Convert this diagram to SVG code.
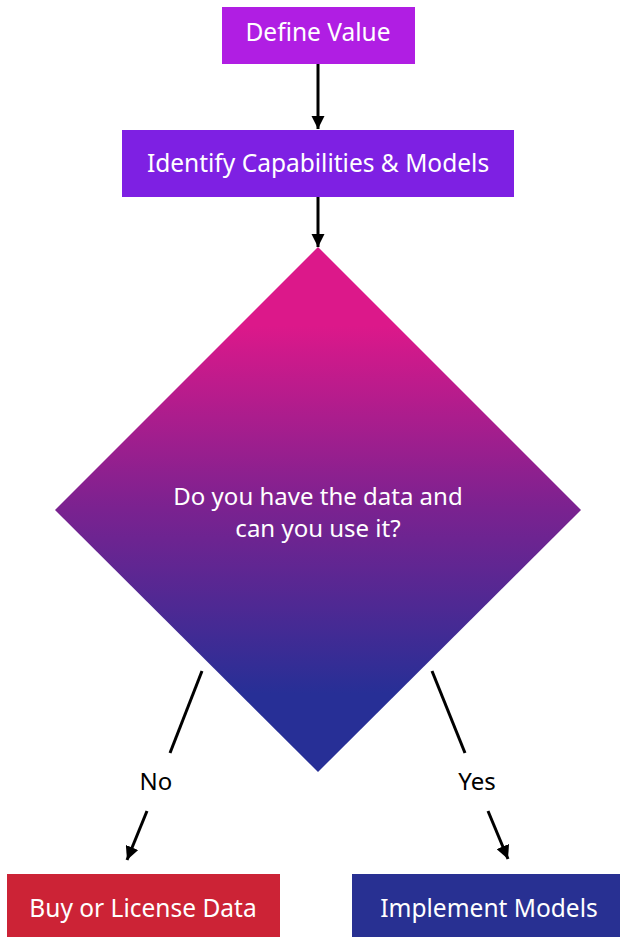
<svg xmlns="http://www.w3.org/2000/svg" width="620" height="937" viewBox="0 0 620 937">
<style>
.lbl{font-family:"Noto Sans","Open Sans","DejaVu Sans",sans-serif;font-size:24.5px;fill:#ffffff;text-anchor:middle}
.dlbl{font-family:"Noto Sans","Open Sans","DejaVu Sans",sans-serif;font-size:24px;fill:#ffffff;text-anchor:middle}
.edge{font-family:"Noto Sans","Open Sans","DejaVu Sans",sans-serif;font-size:24px;fill:#000000;text-anchor:middle}
.conn{stroke:#000;stroke-width:3;fill:none}
</style>
<defs>
<marker id="arr" viewBox="0 0 10 10" refX="10" refY="5" markerWidth="4.5" markerHeight="4.5" orient="auto" markerUnits="strokeWidth">
<path d="M0,0 L10,5 L0,10 Z" fill="#000"/>
</marker>
<linearGradient id="dg" gradientUnits="userSpaceOnUse" x1="0" y1="247" x2="0" y2="772">
<stop offset="0.15" stop-color="#DC188A"/>
<stop offset="0.5" stop-color="#7A2290"/>
<stop offset="0.85" stop-color="#272F96"/>
</linearGradient>
</defs>
<rect width="620" height="937" fill="#fff"/>
<g id="connectors">
<line class="conn" x1="318" y1="64" x2="318" y2="129" marker-end="url(#arr)"/>
<line class="conn" x1="318" y1="197" x2="318" y2="247" marker-end="url(#arr)"/>
<line class="conn" x1="202" y1="671" x2="170" y2="753"/>
<line class="conn" x1="147" y1="811" x2="127" y2="860" marker-end="url(#arr)"/>
<text class="edge" x="156" y="790">No</text>
<line class="conn" x1="432" y1="671" x2="465" y2="753"/>
<line class="conn" x1="488" y1="811" x2="508" y2="859" marker-end="url(#arr)"/>
<text class="edge" x="477" y="790">Yes</text>
</g>
<g id="define-value">
<rect x="222" y="7" width="193" height="57" fill="#B01EE3"/>
<text class="lbl" x="318" y="41">Define Value</text>
</g>
<g id="identify">
<rect x="122" y="130" width="392" height="67" fill="#7E20E3"/>
<text class="lbl" x="318" y="172">Identify Capabilities &amp; Models</text>
</g>
<g id="decision">
<polygon points="318,247 581,510 318,772 55,510" fill="url(#dg)"/>
<text class="dlbl" x="318" y="505">Do you have the data and</text>
<text class="dlbl" x="318" y="537">can you use it?</text>
</g>
<g id="buy">
<rect x="7" y="874" width="273" height="63" fill="#CC2336"/>
<text class="lbl" x="143" y="917">Buy or License Data</text>
</g>
<g id="implement">
<rect x="352" y="874" width="268" height="63" fill="#283092"/>
<text class="lbl" x="489" y="917">Implement Models</text>
</g>
</svg>
